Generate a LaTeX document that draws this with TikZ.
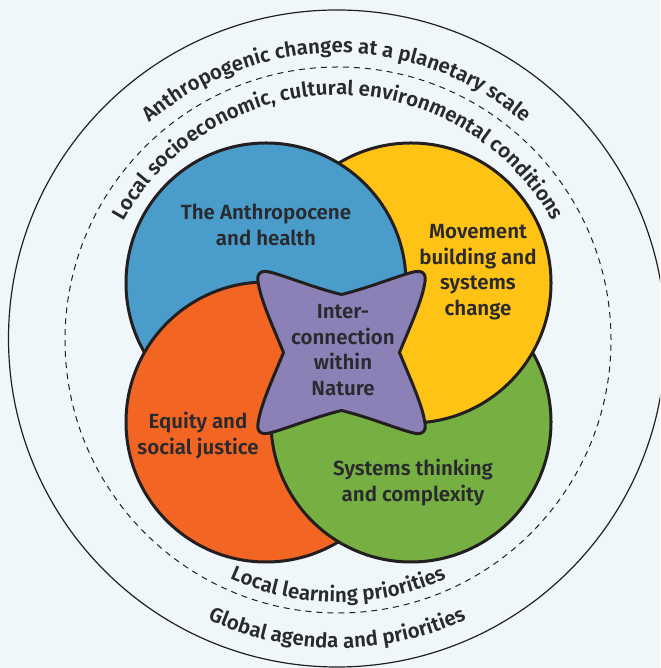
\documentclass[tikz,border=0pt]{standalone}
\usepackage{fontspec}
\setmainfont{Fira Sans SemiBold}
\usetikzlibrary{decorations.text}
\definecolor{bg}{HTML}{EFF7FB}
\definecolor{cblue}{HTML}{4A9DCA}
\definecolor{cyellow}{HTML}{FEC314}
\definecolor{corange}{HTML}{F26522}
\definecolor{cgreen}{HTML}{76B043}
\definecolor{cpurple}{HTML}{8C81B6}
\definecolor{outl}{HTML}{231F20}
\definecolor{txt}{HTML}{2A2A2E}
\newcommand\arcfont{\fontsize{20.5}{20.5}\selectfont}
\newcommand\bodyfont{\fontsize{20.5}{25.5}\selectfont}
\tikzset{
  disc/.style={fill=#1, draw=outl, line width=3pt},
  lbl/.style={font=\bodyfont, align=center, text=txt, inner sep=0pt},
  arctext/.style={decorate, decoration={text along path, text align=center, text={|\arcfont\color{txt}|#1}}},
}
\begin{document}
\begin{tikzpicture}[x=1pt,y=1pt]
\useasboundingbox (0,0) rectangle (660,668);
\fill[bg] (0,0) rectangle (660,668);
\clip (0,0) rectangle (660,668);
\coordinate (outerc) at (337,329.5);
\coordinate (dashc) at (338,328);
\coordinate (cb) at (266,385);
\coordinate (cy) at (411,385);
\coordinate (co) at (266,246);
\coordinate (cg) at (411,246);
\coordinate (cs) at (341.5,315.5);
% outer rings
\draw[outl, line width=1.2pt] (outerc) circle[radius=328.5];
\draw[outl, line width=1pt, dash pattern=on 6pt off 5pt] (dashc) circle[radius=273];
% arc texts
\path[arctext={Anthropogenic changes at a planetary scale}] (outerc) ++(165:285.5) arc[start angle=165, end angle=15, radius=285.5];
\path[arctext={Local socioeconomic, cultural environmental conditions}] (dashc) ++(178:245) arc[start angle=178, end angle=2, radius=245];
\path[arctext={Local learning priorities}] (dashc) ++(205:262) arc[start angle=205, end angle=335, radius=262];
\path[arctext={Global agenda and priorities}] (outerc) ++(205:309.5) arc[start angle=205, end angle=335, radius=309.5];
% pinwheel of discs
\draw[disc=cgreen] (cg) circle[radius=140];
\draw[disc=cyellow] (cy) circle[radius=140];
\draw[disc=cblue] (cb) circle[radius=140];
\draw[disc=corange] (co) circle[radius=140];
\begin{scope}
  \clip (co) circle[radius=143.5];
  \draw[disc=cgreen] (cg) circle[radius=140];
\end{scope}
% central star
\begin{scope}[shift={(cs)}]
\draw[fill=cpurple, draw=outl, line width=3pt, line join=round]
 (0,58)
 .. controls (25,64) and (55,76) .. (70,80)
 .. controls (80,83) and (86,80) .. (83,68)
 .. controls (80,50) and (66,20) .. (58,0)
 .. controls (66,-20) and (80,-50) .. (83,-68)
 .. controls (86,-80) and (80,-83) .. (70,-80)
 .. controls (55,-76) and (25,-64) .. (0,-58)
 .. controls (-25,-64) and (-55,-76) .. (-70,-80)
 .. controls (-80,-83) and (-86,-80) .. (-83,-68)
 .. controls (-80,-50) and (-66,-20) .. (-58,0)
 .. controls (-66,20) and (-80,50) .. (-83,68)
 .. controls (-86,80) and (-80,83) .. (-70,80)
 .. controls (-55,76) and (-25,64) .. (0,58) -- cycle;
\end{scope}
% labels
\node[lbl] (anth) at (266,443) {The Anthropocene\\and health};
\node[lbl] (move) at (478,396) {Movement\\building and\\systems\\change};
\node[lbl] (inter) at (343,318) {Inter-\\connection\\within\\Nature};
\node[lbl] (equity) at (198,232.5) {Equity and\\social justice};
\node[lbl] (systems) at (413,185.5) {Systems thinking\\and complexity};
\end{tikzpicture}
\end{document}
